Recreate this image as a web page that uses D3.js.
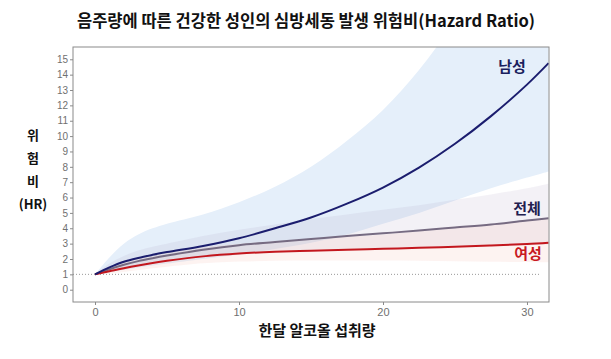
<!DOCTYPE html>
<html>
<head>
<meta charset="utf-8">
<script src="https://cdn.jsdelivr.net/npm/d3@7"></script>
<style>
  body { margin: 0; background: #fff; }
  text { font-family: "Noto Sans CJK KR", "Noto Sans", sans-serif; }
</style>
</head>
<body>
<svg id="chart"></svg>
<script>
const doses = [0, 1, 2, 3, 4, 5, 7.5, 10, 12.5, 15, 17.5, 20, 22.5, 25, 27.5, 30, 31.5];

// hazard ratio curves
const menHR = [1, 1.45, 1.82, 2.07, 2.27, 2.45, 2.85, 3.35, 4.0, 4.7, 5.6, 6.65, 7.95, 9.5, 11.3, 13.35, 14.75];
const totalHR = [1, 1.33, 1.62, 1.86, 2.05, 2.22, 2.6, 2.9, 3.1, 3.3, 3.5, 3.67, 3.85, 4.05, 4.25, 4.5, 4.65];
const womenHR = [1, 1.2, 1.4, 1.58, 1.74, 1.88, 2.17, 2.36, 2.47, 2.54, 2.6, 2.66, 2.73, 2.8, 2.88, 2.97, 3.05];

// confidence bands
const menUpper = [1, 2.1, 3.0, 3.6, 4.0, 4.3, 4.9, 5.7, 6.7, 8.0, 9.7, 11.7, 14.3, 17.5, 21, 25, 28];
const menLower = [1, 1.15, 1.3, 1.45, 1.58, 1.7, 2.0, 2.3, 2.65, 3.05, 3.6, 4.3, 5.0, 5.8, 6.6, 7.3, 7.7];
const totalUpper = [1, 1.7, 2.2, 2.55, 2.8, 3.0, 3.5, 3.9, 4.25, 4.6, 4.9, 5.2, 5.5, 5.85, 6.2, 6.6, 6.9];
const totalLower = [1, 1.2, 1.42, 1.6, 1.75, 1.88, 2.18, 2.38, 2.5, 2.6, 2.65, 2.7, 2.75, 2.8, 2.85, 2.9, 2.95];
const womenUpper = [1, 1.45, 1.8, 2.05, 2.3, 2.5, 2.8, 3.0, 3.15, 3.3, 3.45, 3.6, 3.8, 4.0, 4.25, 4.5, 4.7];
const womenLower = [1, 1.05, 1.15, 1.28, 1.4, 1.5, 1.72, 1.83, 1.88, 1.9, 1.9, 1.9, 1.88, 1.85, 1.82, 1.8, 1.78];

const yTicks = d3.range(0, 16);
const xTicks = [0, 10, 20, 30];

const title = '음주량에 따른 건강한 성인의 심방세동 발생 위험비(Hazard Ratio)';
const xTitle = '한달 알코올 섭취량';
const yTitle = ['위', '험', '비', '(HR)'];

const width = 611;
const height = 359;
const plotLeft = 73, plotRight = 549, plotTop = 47, plotBottom = 302;

const svg = d3.select('#chart')
    .attr('width', width)
    .attr('height', height);

const x = d3.scaleLinear().domain([-1.53, 31.53]).range([plotLeft, plotRight]);
const y = d3.scaleLinear().domain([-0.8, 15.8]).range([plotBottom, plotTop]);

svg.append('clipPath').attr('id', 'plot')
    .append('rect')
    .attr('x', plotLeft).attr('y', plotTop)
    .attr('width', plotRight - plotLeft).attr('height', plotBottom - plotTop);

const band = (lo, hi) => d3.area()
    .x((d, i) => x(doses[i]))
    .y0((d, i) => y(lo[i]))
    .y1((d, i) => y(hi[i]))
    .curve(d3.curveCatmullRom);

const line = vals => d3.line()
    .x((d, i) => x(doses[i]))
    .y((d, i) => y(vals[i]))
    .curve(d3.curveCatmullRom);

const plot = svg.append('g').attr('clip-path', 'url(#plot)');

plot.append('path')
    .attr('d', band(menLower, menUpper)(doses))
    .attr('fill', '#e5effa');

plot.append('path')
    .attr('d', band(totalLower, totalUpper)(doses))
    .attr('fill', 'rgb(160,150,185)')
    .attr('fill-opacity', 0.13);

plot.append('path')
    .attr('d', band(womenLower, womenUpper)(doses))
    .attr('fill', 'rgb(245,190,175)')
    .attr('fill-opacity', 0.18);

// reference line at HR = 1
plot.append('line')
    .attr('x1', plotLeft).attr('x2', x(30.9))
    .attr('y1', y(1)).attr('y2', y(1))
    .attr('stroke', '#999')
    .attr('stroke-width', 1)
    .attr('stroke-dasharray', '1,2');

plot.append('path')
    .attr('d', line(totalHR)(doses))
    .attr('fill', 'none')
    .attr('stroke', '#766b82')
    .attr('stroke-width', 2);

plot.append('path')
    .attr('d', line(womenHR)(doses))
    .attr('fill', 'none')
    .attr('stroke', '#c3171e')
    .attr('stroke-width', 2);

plot.append('path')
    .attr('d', line(menHR)(doses))
    .attr('fill', 'none')
    .attr('stroke', '#1b1d6e')
    .attr('stroke-width', 2);

// frame
svg.append('rect')
    .attr('x', plotLeft).attr('y', plotTop)
    .attr('width', plotRight - plotLeft).attr('height', plotBottom - plotTop)
    .attr('fill', 'none')
    .attr('stroke', '#8a8a8a')
    .attr('stroke-width', 1);

const yAxis = svg.append('g')
    .attr('transform', `translate(${plotLeft},0)`)
    .call(d3.axisLeft(y).tickValues(yTicks).tickSize(3).tickPadding(2));

const xAxis = svg.append('g')
    .attr('transform', `translate(0,${plotBottom})`)
    .call(d3.axisBottom(x).tickValues(xTicks).tickSize(3).tickPadding(3));

[yAxis, xAxis].forEach(a => {
    a.select('.domain').remove();
    a.selectAll('line').attr('stroke', '#8a8a8a');
    a.selectAll('text')
        .attr('fill', '#707070')
        .style('font-family', 'Liberation Sans, Arial, sans-serif')
        .style('font-size', '10px');
});
xAxis.selectAll('text').style('font-size', '11px');

// titles
svg.append('text')
    .attr('x', 306).attr('y', 27)
    .attr('text-anchor', 'middle')
    .style('font-size', '16.5px')
    .style('font-weight', 'bold')
    .attr('fill', '#111')
    .text(title);

svg.append('text')
    .attr('x', 317).attr('y', 336)
    .attr('text-anchor', 'middle')
    .style('font-size', '15px')
    .style('font-weight', 'bold')
    .attr('fill', '#111')
    .text(xTitle);

svg.selectAll('.ytitle')
    .data(yTitle)
    .enter()
    .append('text')
    .attr('class', 'ytitle')
    .attr('x', 33)
    .attr('y', (d, i) => 140 + i * 23)
    .attr('text-anchor', 'middle')
    .style('font-size', '13px')
    .style('font-weight', 'bold')
    .attr('fill', '#111')
    .text(d => d);

// series labels
const labels = [
    { text: '남성', x: 512, y: 72, color: '#1b1f5e' },
    { text: '전체', x: 527, y: 214, color: '#22204f' },
    { text: '여성', x: 528, y: 259, color: '#c8191f' }];

svg.selectAll('.lab')
    .data(labels)
    .enter()
    .append('text')
    .attr('class', 'lab')
    .attr('x', d => d.x)
    .attr('y', d => d.y)
    .attr('text-anchor', 'middle')
    .style('font-size', '15px')
    .style('font-weight', 'bold')
    .attr('fill', d => d.color)
    .text(d => d.text);
</script>
</body>
</html>
